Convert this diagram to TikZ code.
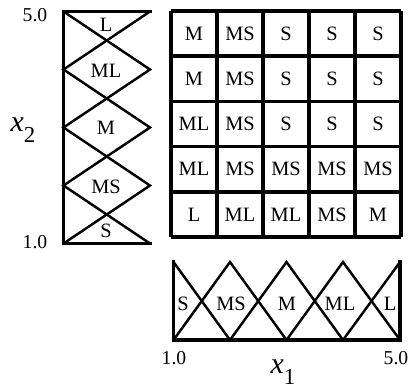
\documentclass[tikz,border=0pt]{standalone}
\usepackage{fontspec}
\setmainfont{Liberation Serif}

\begin{document}
\begin{tikzpicture}[
    x=0.02cm, y=-0.02cm,
    frame/.style={line width=2pt, draw=black, line cap=rect},
    mf/.style={line width=1.4pt, draw=black, line join=miter},
    cell/.style={line width=2.1pt, draw=black},
    lbl/.style={font=\fontsize{11.6}{13}\selectfont, inner sep=0pt},
    tick/.style={font=\fontsize{11.2}{12}\selectfont, inner sep=0pt},
    axis/.style={font=\fontsize{17}{19}\selectfont\itshape, inner sep=0pt}
]
    \useasboundingbox (0,0) rectangle (412,390);

    %------------------------------------------------
    % membership functions of x2 (left)
    %------------------------------------------------
    \draw[mf] (63.5,11.5) -- (150,69.5) -- (63.5,127.5) -- (150,185.5) -- (63.5,243.5);
    \draw[mf] (150,11.5) -- (63.5,69.5) -- (150,127.5) -- (63.5,185.5) -- (150,243.5);
    \draw[frame] (150,11.5) -- (63.5,11.5) -- (63.5,243.5) -- (150,243.5);

    \node[lbl] (yL)  at (106,25)  {L};
    \node[lbl] (yML) at (106,71)  {ML};
    \node[lbl] (yM)  at (106,128) {M};
    \node[lbl] (yMS) at (106,187) {MS};
    \node[lbl] (yS)  at (106,231) {S};

    \node[tick] (ytop) at (35,15)  {5.0};
    \node[tick] (ybot) at (35,242) {1.0};
    \node[axis] (x2) at (23,130) {x\raisebox{-0.8ex}{\upshape\fontsize{13}{14}\selectfont 2}};

    %------------------------------------------------
    % membership functions of x1 (bottom)
    %------------------------------------------------
    \draw[mf] (173.5,262) -- (230,340) -- (286.5,262) -- (343,340) -- (400,262);
    \draw[mf] (173.5,340) -- (230,262) -- (286.5,340) -- (343,262) -- (400,340);
    \draw[frame] (173.5,262) -- (173.5,340) -- (400,340) -- (400,262);

    \node[lbl] (xS)  at (183,304) {S};
    \node[lbl] (xMS) at (231,304) {MS};
    \node[lbl] (xM)  at (287,304) {M};
    \node[lbl] (xML) at (340,304) {ML};
    \node[lbl] (xL)  at (390,304) {L};

    \node[tick] (xleft)  at (174,358) {1.0};
    \node[tick] (xright) at (396,358) {5.0};
    \node[axis] (x1) at (283,372) {x\raisebox{-0.8ex}{\upshape\fontsize{13}{14}\selectfont 1}};

    %------------------------------------------------
    % rule table
    %------------------------------------------------
    \foreach \i in {0,...,5} {
        \draw[cell] (171+46*\i,11) -- (171+46*\i,237);
        \draw[cell] (171,11+45.2*\i) -- (401,11+45.2*\i);
    }
    \foreach \row [count=\r from 0] in {{M,MS,S,S,S},{M,MS,S,S,S},{ML,MS,S,S,S},{ML,MS,MS,MS,MS},{L,ML,ML,MS,M}} {
        \foreach \txt [count=\c from 0] in \row {
            \node[lbl] (r\r c\c) at (194+46*\c,33.6+45.2*\r) {\txt};
        }
    }

\end{tikzpicture}
\end{document}
